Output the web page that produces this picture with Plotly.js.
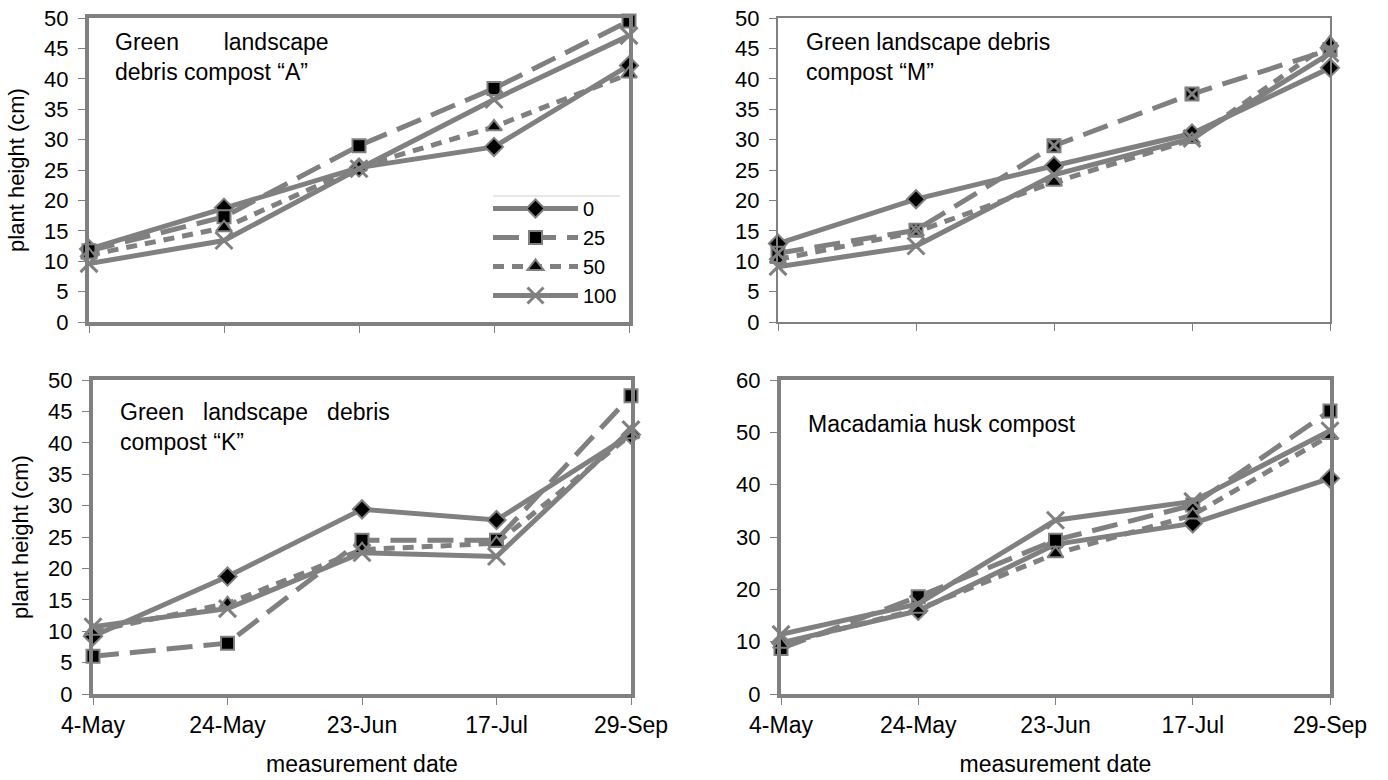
<!DOCTYPE html>
<html>
<head>
<meta charset="utf-8">
<script src="https://cdn.plot.ly/plotly-3.0.1.min.js"></script>
<style>html,body{margin:0;padding:0;background:#fff;}#chart{width:1388px;height:780px;}</style>
</head>
<body>
<div id="chart"></div>
<script>
// ---- data ----
const dates = ['4-May', '24-May', '23-Jun', '17-Jul', '29-Sep'];
const seriesNames = ['0', '25', '50', '100'];

// Panel: Green landscape debris compost "A"
const compA_0   = [12.0, 18.8, 25.4, 28.8, 42.2];
const compA_25  = [11.7, 17.3, 29.0, 38.4, 49.5];
const compA_50  = [11.0, 15.5, 25.5, 32.1, 40.8];
const compA_100 = [9.6, 13.4, 25.2, 36.6, 47.1];

// Panel: Green landscape debris compost "M"
const compM_0   = [12.9, 20.2, 25.7, 31.0, 41.8];
const compM_25  = [11.3, 15.1, 29.0, 37.5, 44.8];
const compM_50  = [10.3, 14.8, 23.0, 30.0, 45.9];
const compM_100 = [9.1, 12.5, 24.2, 30.2, 44.2];

// Panel: Green landscape debris compost "K"
const compK_0   = [9.2, 18.7, 29.4, 27.7, 41.3];
const compK_25  = [6.0, 8.1, 24.5, 24.5, 47.5];
const compK_50  = [10.0, 14.4, 23.0, 24.0, 41.3];
const compK_100 = [10.7, 13.6, 22.5, 21.9, 42.1];

// Panel: Macadamia husk compost
const mac_0   = [9.8, 15.9, 28.6, 32.6, 41.2];
const mac_25  = [8.7, 18.6, 29.4, 36.1, 54.1];
const mac_50  = [9.5, 16.2, 26.8, 34.2, 49.4];
const mac_100 = [11.4, 17.2, 33.2, 36.8, 50.3];

const panelTitles = ['Green&nbsp;&nbsp;&nbsp;&nbsp;&nbsp;&nbsp; landscape<br>debris compost \u201CA\u201D',
                     'Green landscape debris<br>compost \u201CM\u201D',
                     'Green&nbsp;&nbsp; landscape&nbsp;&nbsp; debris<br>compost \u201CK\u201D',
                     'Macadamia husk compost'];

// ---- styles ----
const GRAY = '#808080';
const styles = [
  {dash: 'solid', marker: {symbol: 'diamond', size: 14, color: '#000', line: {color: GRAY, width: 2}}},
  {dash: '26px,11px', marker: {symbol: 'square', size: 13, color: '#000', line: {color: GRAY, width: 2}}},
  {dash: '11px,8px', marker: {symbol: 'triangle-up', size: 14, color: '#000', line: {color: GRAY, width: 2}}},
  {dash: 'solid', marker: {symbol: 'x-thin-open', size: 17, color: GRAY, line: {color: GRAY, width: 3}}}
];

const panels = [
  {data: [compA_0, compA_25, compA_50, compA_100], xa: 'x', ya: 'y', legend: true},
  {data: [compM_0, compM_25, compM_50, compM_100], xa: 'x2', ya: 'y2', legend: false},
  {data: [compK_0, compK_25, compK_50, compK_100], xa: 'x3', ya: 'y3', legend: false},
  {data: [mac_0, mac_25, mac_50, mac_100], xa: 'x4', ya: 'y4', legend: false}
];

const traces = [];
panels.forEach(p => {
  p.data.forEach((vals, i) => {
    traces.push({
      type: 'scatter', mode: 'lines+markers',
      x: dates, y: vals, name: seriesNames[i],
      xaxis: p.xa, yaxis: p.ya,
      showlegend: p.legend,
      line: {color: GRAY, width: 5, dash: styles[i].dash},
      marker: styles[i].marker,
      cliponaxis: false
    });
  });
});
// overlay star on the "M" 25 squares, as in the original
traces.push({
  type: 'scatter', mode: 'markers', x: dates, y: compM_25, xaxis: 'x2', yaxis: 'y2',
  showlegend: false, hoverinfo: 'skip', cliponaxis: false,
  marker: {symbol: 'x-thin-open', size: 13, color: GRAY, line: {color: GRAY, width: 3}}
});

const W = 1388, H = 780;
const fx = px => px / W;
const fy = px => 1 - px / H;
const FONT = 'Liberation Sans, Arial, sans-serif';

function xax(x0, x1, anchor, labels, lw) {
  return {
    domain: [fx(x0), fx(x1)], anchor: anchor, type: 'category', range: [0, 4],
    showgrid: false, zeroline: false, showline: true, linecolor: GRAY, linewidth: lw, mirror: true,
    ticks: 'outside', ticklen: 7, tickwidth: 1, tickcolor: GRAY, ticklabelstandoff: 0,
    showticklabels: labels, tickfont: {size: 23, color: '#000', family: FONT},
    title: labels ? {text: 'measurement date', font: {size: 23, color: '#000', family: FONT}, standoff: 20} : {text: ''}
  };
}
function yax(y0, y1, anchor, maxv, dt, titled, lw) {
  return {
    domain: [fy(y1), fy(y0)], anchor: anchor, range: [0, maxv], dtick: dt,
    showgrid: false, zeroline: false, showline: true, linecolor: GRAY, linewidth: lw, mirror: true,
    ticks: 'outside', ticklen: 7, tickwidth: 1, tickcolor: GRAY, ticklabelstandoff: 5,
    tickfont: {size: 22, color: '#000', family: FONT},
    title: titled ? {text: 'plant height (cm)', font: {size: 22, color: '#000', family: FONT}, standoff: 14} : {text: ''}
  };
}

const layout = {
  width: W, height: H,
  margin: {l: 0, r: 0, t: 0, b: 0},
  paper_bgcolor: '#fff', plot_bgcolor: '#fff',
  font: {family: FONT, color: '#000', size: 22},
  showlegend: true,
  legend: {x: fx(488), y: fy(189), xanchor: 'left', yanchor: 'top', bgcolor: 'rgba(255,255,255,0)',
           font: {size: 20, color: '#000', family: FONT}, itemwidth: 85, tracegroupgap: 0},
  shapes: [
    {type: 'line', xref: 'paper', yref: 'paper', x0: fx(493), x1: fx(620), y0: fy(196), y1: fy(196),
     line: {color: '#d0d0d0', width: 1}}
  ],
  xaxis: xax(89, 629, 'y', false, 4),
  yaxis: yax(18, 322, 'x', 50, 5, true, 4),
  xaxis2: xax(778, 1330, 'y2', false, 2),
  yaxis2: yax(18, 322, 'x2', 50, 5, false, 2),
  xaxis3: xax(93, 631, 'y3', true, 4),
  yaxis3: yax(380, 694, 'x3', 50, 5, true, 4),
  xaxis4: xax(781, 1330, 'y4', true, 4),
  yaxis4: yax(380, 694, 'x4', 60, 10, false, 4),
  annotations: [
    {text: panelTitles[0], xref: 'paper', yref: 'paper', x: fx(113), y: fy(27), xanchor: 'left', yanchor: 'top', align: 'left', showarrow: false, font: {size: 23, family: FONT, color: '#000'}},
    {text: panelTitles[1], xref: 'paper', yref: 'paper', x: fx(804), y: fy(27), xanchor: 'left', yanchor: 'top', align: 'left', showarrow: false, font: {size: 23, family: FONT, color: '#000'}},
    {text: panelTitles[2], xref: 'paper', yref: 'paper', x: fx(118), y: fy(397), xanchor: 'left', yanchor: 'top', align: 'left', showarrow: false, font: {size: 23, family: FONT, color: '#000'}},
    {text: panelTitles[3], xref: 'paper', yref: 'paper', x: fx(806), y: fy(409), xanchor: 'left', yanchor: 'top', align: 'left', showarrow: false, font: {size: 23, family: FONT, color: '#000'}}
  ]
};

Plotly.newPlot('chart', traces, layout, {displayModeBar: false, staticPlot: true});
</script>
</body>
</html>
